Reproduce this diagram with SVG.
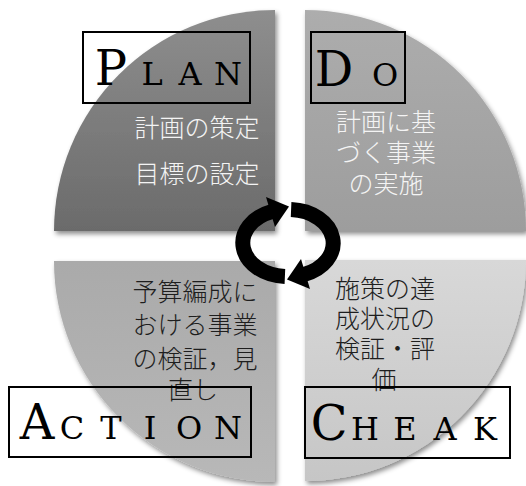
<svg xmlns="http://www.w3.org/2000/svg" width="526" height="486" viewBox="0 0 526 486">
  <style>
    .lbl { fill: none; stroke: #000; stroke-width: 2; }
    .big { font-family: "DejaVu Serif", "Liberation Serif", serif; fill: #000; text-anchor: middle; }
    .cap { font-size: 48px; }
    .sm { font-size: 32px; }
    .jp { font-family: "Noto Sans CJK JP", sans-serif; font-weight: 300; text-anchor: middle; }
    .jw { fill: #f4f4f4; }
    .jd { fill: #1e1e1e; }
  </style>
  <defs>
    <filter id="sh" x="-10%" y="-10%" width="125%" height="125%">
      <feDropShadow dx="2" dy="3" stdDeviation="2.5" flood-color="#000" flood-opacity="0.45"/>
    </filter>
    <linearGradient id="gP" x1="0" y1="0" x2="0" y2="1">
      <stop offset="0" stop-color="#8e8e8e"/>
      <stop offset="1" stop-color="#6b6b6b"/>
    </linearGradient>
    <linearGradient id="gD" x1="0" y1="0" x2="0" y2="1">
      <stop offset="0" stop-color="#adadad"/>
      <stop offset="1" stop-color="#9d9d9d"/>
    </linearGradient>
    <linearGradient id="gA" x1="0" y1="0" x2="0" y2="1">
      <stop offset="0" stop-color="#aaaaaa"/>
      <stop offset="1" stop-color="#b8b8b8"/>
    </linearGradient>
    <linearGradient id="gC" x1="0" y1="0" x2="0" y2="1">
      <stop offset="0" stop-color="#d8d8d8"/>
      <stop offset="1" stop-color="#c6c6c6"/>
    </linearGradient>
  </defs>

  <g id="plan">
    <path d="M275,231 L54,231 A221,221 0 0 1 275,10 Z" fill="url(#gP)" filter="url(#sh)"/>
    <rect class="lbl" x="83" y="32" width="167" height="71"/>
    <text class="big" y="85"><tspan class="cap" x="111">P</tspan><tspan class="sm" x="152">L</tspan><tspan class="sm" x="190">A</tspan><tspan class="sm" x="228">N</tspan></text>
    <text class="jp jw" font-size="25"><tspan x="197" y="137">計画の策定</tspan><tspan x="197" y="183">目標の設定</tspan></text>
  </g>

  <g id="do">
    <path d="M305,231 L305,10 A221,221 0 0 1 526,231 Z" fill="url(#gD)" filter="url(#sh)"/>
    <rect class="lbl" x="311" y="32" width="94" height="71"/>
    <text class="big" y="86"><tspan class="cap" x="334">D</tspan><tspan class="sm" x="385">O</tspan></text>
    <text class="jp jw" font-size="25"><tspan x="386" y="131">計画に基</tspan><tspan x="386" y="162">づく事業</tspan><tspan x="386" y="193">の実施</tspan></text>
  </g>

  <g id="action">
    <path d="M275,261 L275,482 A221,221 0 0 1 54,261 Z" fill="url(#gA)" filter="url(#sh)"/>
    <text class="jp jd" font-size="25"><tspan x="195" y="301">予算編成に</tspan><tspan x="195" y="334">おける事業</tspan><tspan x="195" y="368">の検証，見</tspan><tspan x="193" y="399">直し</tspan></text>
    <rect class="lbl" x="9" y="387" width="242" height="70"/>
    <text class="big" y="439"><tspan class="cap" x="37">A</tspan><tspan class="sm" x="72">C</tspan><tspan class="sm" x="111">T</tspan><tspan class="sm" x="150">I</tspan><tspan class="sm" x="189">O</tspan><tspan class="sm" x="228">N</tspan></text>
  </g>

  <g id="cheak">
    <path d="M305,260 L526,260 A221,221 0 0 1 305,481 Z" fill="url(#gC)" filter="url(#sh)"/>
    <text class="jp jd" font-size="25"><tspan x="385" y="298">施策の達</tspan><tspan x="385" y="328">成状況の</tspan><tspan x="385" y="358">検証・評</tspan><tspan x="384" y="389">価</tspan></text>
    <rect class="lbl" x="305" y="387" width="205" height="71"/>
    <text class="big" y="440"><tspan class="cap" x="329">C</tspan><tspan class="sm" x="365">H</tspan><tspan class="sm" x="405">E</tspan><tspan class="sm" x="445">A</tspan><tspan class="sm" x="485">K</tspan></text>
  </g>

  <g id="connectors" fill="none" stroke="#000" stroke-width="15">
    <path d="M284.9,276.4 A44.5,33.5 0 0 1 272,211.5"/>
    <polygon points="266,197 289,206.5 275,227" fill="#000" stroke="none"/>
    <g transform="rotate(180 288 243)">
      <path d="M284.9,276.4 A44.5,33.5 0 0 1 272,211.5"/>
      <polygon points="266,197 289,206.5 275,227" fill="#000" stroke="none"/>
    </g>
  </g>
</svg>
